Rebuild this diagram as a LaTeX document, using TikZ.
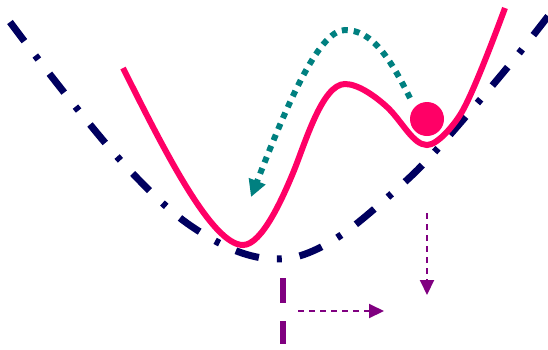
\documentclass[tikz,border=0pt]{standalone}
\usetikzlibrary{arrows.meta}
\definecolor{navyc}{RGB}{0,0,95}
\definecolor{pinkc}{RGB}{255,0,102}
\definecolor{tealc}{RGB}{0,128,128}
\definecolor{purplec}{RGB}{128,0,128}
\tikzset{
  navyline/.style={draw=navyc, line width=7pt, dash pattern=on 24pt off 18pt on 5pt off 18pt},
  pinkline/.style={draw=pinkc, line width=6pt},
  tealline/.style={draw=tealc, line width=6pt, dash pattern=on 6pt off 6pt, -{Triangle[length=17pt,width=17pt]}},
  thinarrow/.style={draw=purplec, line width=2pt, dash pattern=on 6pt off 5pt, -{Triangle[length=15pt,width=14pt]}},
  thickdash/.style={draw=purplec, line width=6pt, dash pattern=on 25pt off 18pt}
}
\begin{document}
\begin{tikzpicture}[x=1pt,y=-1pt]
\useasboundingbox (0,0) rectangle (548,349);
\begin{scope}
\clip (0,0) rectangle (548,349);
\draw[navyline] plot[smooth,tension=0.6] coordinates {(10,22) (38,59) (79,111) (122,162) (168,208) (205,235) (242,253) (276,259) (308,253) (347,231) (397,189) (430,157) (474,107) (516,57) (556,6)};
\end{scope}
\draw[pinkline] (123,68) .. controls (165,152) and (212,245) .. (243,245)
  .. controls (262,245) and (283,197) .. (293,173)
  .. controls (305,144) and (322,84) .. (345,84)
  .. controls (358,84) and (375,96) .. (387,107)
  .. controls (402,121) and (413,145) .. (427,145)
  .. controls (438,145) and (456,123) .. (463,110)
  .. controls (475,88) and (495,35) .. (505,8);
\node[circle, fill=pinkc, minimum size=34pt, inner sep=0pt] (ball) at (427,119) {};
\coordinate (tstart) at (410,98);
\coordinate (ttop) at (345,30);
\coordinate (tend) at (251,197);
\draw[tealline] (tstart) .. controls (390,58) and (372,30) .. (ttop)
  .. controls (318,30) and (285,110) .. (tend);
\coordinate (v1) at (283,278);
\coordinate (v2) at (283,344);
\draw[thickdash] (v1) -- (v2);
\coordinate (h1) at (298,311);
\coordinate (h2) at (384,311);
\draw[thinarrow] (h1) -- (h2);
\coordinate (d1) at (427,213);
\coordinate (d2) at (427,295);
\draw[thinarrow] (d1) -- (d2);
\end{tikzpicture}
\end{document}
